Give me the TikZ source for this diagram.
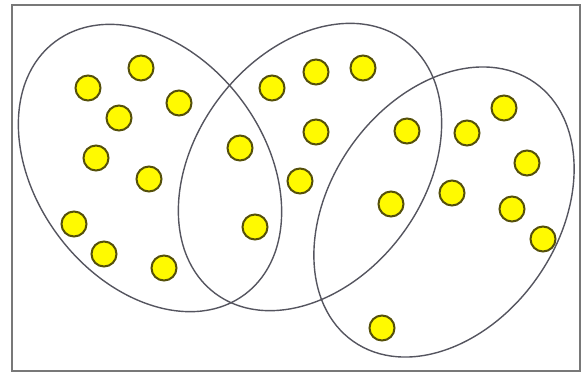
\documentclass[tikz,border=0pt]{standalone}
\usepackage{tikz}

\definecolor{dotfill}{RGB}{255,250,0}
\definecolor{dotline}{RGB}{85,80,10}
\definecolor{setline}{RGB}{85,85,95}
\definecolor{frameline}{RGB}{120,120,120}

\tikzset{
  dot/.style={circle,fill=dotfill,draw=dotline,line width=2pt,minimum size=25pt,inner sep=0pt},
  setline/.style={draw=setline,line width=1.4pt}
}

\begin{document}
\begin{tikzpicture}[x=1pt,y=-1pt]
  \useasboundingbox (0,0) rectangle (583,376);
  \draw[frameline,line width=2.8pt] (12,5) rectangle (580,371);
  % the three sets
  \draw[setline,rotate around={-53:(150,168)}] (150,168) ellipse [x radius=158,y radius=114];
  \draw[setline,rotate around={53:(310,167)}] (310,167) ellipse [x radius=158,y radius=114];
  \draw[setline,rotate around={55:(444,212)}] (444,212) ellipse [x radius=158,y radius=114];
  % elements
  \foreach \x/\y [count=\i] in {88/88,141/68,179/103,119/118,96/158,149/179,74/224,104/254,164/268,
                                 272/88,316/72,363/68,240/148,316/132,300/181,255/227,
                                 407/131,467/133,504/108,527/163,391/204,452/193,512/209,543/239,382/328}
    \node[dot] (e\i) at (\x,\y) {};
\end{tikzpicture}
\end{document}
